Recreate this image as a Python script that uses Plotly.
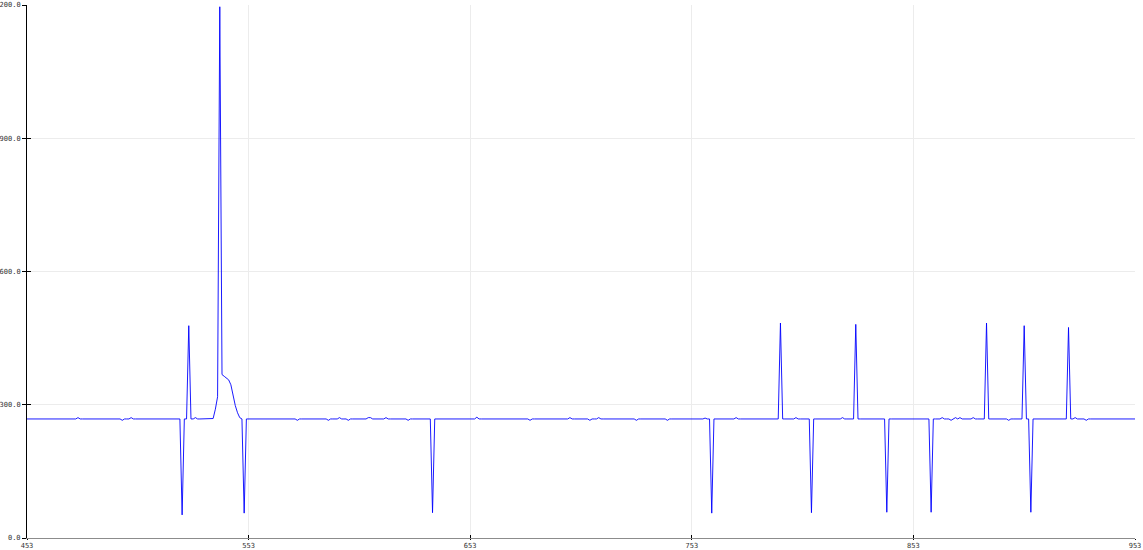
import plotly.graph_objects as go

# ---- data ----
x_start = 453
x_end = 953
baseline = 268

# sparse deviations from the baseline (x position, value)
event_x = [476, 496, 500,
           523, 526, 529,
           537, 538, 539, 540, 541, 542, 543, 544, 545, 546, 547, 548, 549,
           551,
           575, 589, 594, 598, 607, 608, 615, 625,
           636,
           656, 680, 698, 707, 711, 728, 742, 759,
           762,
           773, 793, 800, 807, 821, 827, 841, 861,
           866, 870, 872, 874, 880,
           886, 896, 903, 906, 923, 926, 931]
event_y = [271, 265, 271,
           52, 478, 271,
           269, 290, 318, 1196, 368, 364, 360, 356, 345, 318, 298, 282, 271,
           56,
           265, 265, 271, 265, 271, 271, 271, 265,
           57,
           272, 265, 271, 265, 271, 265, 265, 270,
           56,
           271, 484, 271, 57, 271, 481, 58, 58,
           271, 265, 271, 271, 271,
           484, 265, 478, 58, 474, 271, 265]

x_ticks = [453, 553, 653, 753, 853, 953]
y_ticks = [0, 300, 600, 900, 1200]

# ---- build series ----
xs = list(range(x_start, x_end + 1))
lookup = dict(zip(event_x, event_y))
ys = [lookup.get(v, baseline) for v in xs]

fig = go.Figure()
fig.add_trace(go.Scatter(x=xs, y=ys, mode="lines",
                         line=dict(color="#0000ff", width=0.9),
                         hoverinfo="skip", showlegend=False))
# helper (empty) trace so the overlay axes that draw the inner tick halves exist
fig.add_trace(go.Scatter(x=[], y=[], xaxis="x2", yaxis="y2",
                         showlegend=False, hoverinfo="skip"))

tick_font = dict(family="DejaVu Sans Mono", size=7, color="#333333")

fig.update_layout(
    width=1143, height=550,
    margin=dict(l=27, r=8, t=5, b=12),
    paper_bgcolor="white", plot_bgcolor="white",
    showlegend=False,
    xaxis=dict(range=[x_start, x_end], tickvals=x_ticks,
               ticktext=[str(v) for v in x_ticks],
               showgrid=True, gridcolor="#ececec", gridwidth=1,
               zeroline=False, showline=True, linecolor="#8c8c8c", linewidth=1,
               ticks="outside", ticklen=1, tickcolor="#000000", tickwidth=1,
               tickfont=tick_font, automargin=False, fixedrange=True),
    yaxis=dict(range=[0, 1200], tickvals=y_ticks,
               ticktext=[f"{v:.1f}" for v in y_ticks],
               showgrid=True, gridcolor="#ececec", gridwidth=1,
               zeroline=False, showline=True, linecolor="#000000", linewidth=1,
               ticks="outside", ticklen=4, tickcolor="#000000", tickwidth=1,
               tickfont=tick_font, automargin=False, fixedrange=True),
    xaxis2=dict(range=[x_start, x_end], tickvals=x_ticks, overlaying="x",
                anchor="y", side="bottom",
                showticklabels=False, showgrid=False, zeroline=False,
                showline=False, ticks="inside", ticklen=3,
                tickcolor="#000000", tickwidth=1, fixedrange=True),
    yaxis2=dict(range=[0, 1200], tickvals=y_ticks, overlaying="y",
                anchor="x", side="left",
                showticklabels=False, showgrid=False, zeroline=False,
                showline=False, ticks="inside", ticklen=4,
                tickcolor="#000000", tickwidth=1, fixedrange=True),
)

fig.write_html("out.html",
               config={"displayModeBar": False, "staticPlot": True},
               post_script="document.body.style.margin='0px';"
                           "document.body.style.overflow='hidden';")
